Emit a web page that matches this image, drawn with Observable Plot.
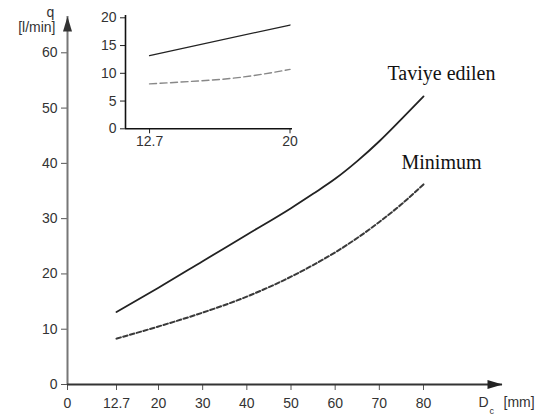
<!DOCTYPE html>
<html><head><meta charset="utf-8">
<script src="https://cdn.jsdelivr.net/npm/d3@7"></script>
<script src="https://cdn.jsdelivr.net/npm/@observablehq/plot@0.6"></script>
<style>
html,body{margin:0;padding:0;background:#fff;}
#wrap{position:relative;width:539px;height:418px;overflow:hidden;}
#wrap svg{position:absolute;left:0;top:0;}
</style></head><body><div id="wrap"></div>
<script>
// ---- data (main chart) ----
const mainXTicks = [0, 12.7, 20, 30, 40, 50, 60, 70, 80];
const mainYTicks = [0, 10, 20, 30, 40, 50, 60];
const diameter = [12.7, 20, 30, 40, 50, 55, 60, 65, 70, 75, 80];
const recommended = [13.1, 17.5, 22.3, 27.1, 31.9, 34.5, 37.2, 40.4, 44.0, 48.0, 52.1];
const minimum = [8.3, 10.5, 13.0, 15.9, 19.5, 21.6, 23.9, 26.5, 29.4, 32.6, 36.2];
const seriesLabels = ["Taviye edilen", "Minimum"];
// ---- data (inset) ----
const insetXTicks = [12.7, 20];
const insetYTicks = [0, 5, 10, 15, 20];
const insetXDomain = [11.45, 20];
const insetRecDia = [12.7, 20];
const insetRecommended = [13.2, 18.7];
const insetMinDia = [12.7, 14.7, 17, 18.5, 20];
const insetMinimum = [8.1, 8.5, 9.1, 9.8, 10.7];

const recRows = diameter.map((d, i) => ({d, q: recommended[i]}));
const minRows = diameter.map((d, i) => ({d, q: minimum[i]}));
const insetRecRows = insetRecDia.map((d, i) => ({d, q: insetRecommended[i]}));
const insetMinRows = insetMinDia.map((d, i) => ({d, q: insetMinimum[i]}));

const fmt = d => String(d);
const sans = "'Liberation Sans', Arial, Helvetica, sans-serif";
const serif = "'Liberation Serif', 'Times New Roman', serif";
// arrow head with its tip at the origin, pointing up
const arrowHead = {draw(ctx) { ctx.moveTo(0, 0); ctx.lineTo(4.5, 15); ctx.lineTo(-4.5, 15); ctx.closePath(); }};

const main = Plot.plot({
  width: 539, height: 418,
  marginLeft: 67, marginRight: 37, marginTop: 16, marginBottom: 34,
  style: {fontFamily: sans, fontSize: "14px", color: "#333", background: "transparent", overflow: "visible"},
  x: {type: "linear", domain: [0, 12.7, 20, 80], range: [67, 116, 158, 423]},
  y: {domain: [0, 60], range: [384, 52.3]},
  marks: [
    Plot.axisY({ticks: mainYTicks, tickSize: 6, tickPadding: 4, stroke: "#555", fill: "#333", tickFormat: fmt, label: null}),
    Plot.axisX({ticks: mainXTicks, tickSize: 6, tickPadding: 8, stroke: "#555", fill: "#333", tickFormat: fmt, label: null}),
    Plot.ruleX([0], {stroke: "#777", strokeWidth: 2}),
    Plot.ruleY([0], {stroke: "#333", strokeWidth: 2}),
    Plot.line(recRows, {x: "d", y: "q", curve: "monotone-x", stroke: "#222", strokeWidth: 1.8}),
    Plot.line(minRows, {x: "d", y: "q", curve: "monotone-x", stroke: "#3a3a3a", strokeWidth: 2, strokeDasharray: "4.5,2.5"}),
    Plot.text(recRows, Plot.selectLast({x: "d", y: "q", text: () => seriesLabels[0], dx: 18, dy: -23, textAnchor: "middle", lineAnchor: "middle", fontFamily: serif, fontSize: 20, fill: "#111"})),
    Plot.text(minRows, Plot.selectLast({x: "d", y: "q", text: () => seriesLabels[1], dx: 18, dy: -22, textAnchor: "middle", lineAnchor: "middle", fontFamily: serif, fontSize: 20, fill: "#111"})),
    Plot.dot([0], {x: d => d, frameAnchor: "top", symbol: arrowHead, fill: "#333", stroke: "none", r: 5}),
    Plot.dot([0], {y: d => d, frameAnchor: "right", symbol: arrowHead, rotate: 90, fill: "#222", stroke: "none", r: 5}),
    Plot.text(["q"], {frameAnchor: "top-left", text: d => d, dx: -17, dy: -4, textAnchor: "middle", lineAnchor: "middle", fill: "#333"}),
    Plot.text(["[l/min]"], {frameAnchor: "top-left", text: d => d, dx: -12, dy: 11, textAnchor: "end", lineAnchor: "middle", fill: "#333"}),
    Plot.text(["D"], {frameAnchor: "bottom-right", text: d => d, dx: -24, dy: 18, textAnchor: "start", lineAnchor: "middle", fill: "#333"}),
    Plot.text(["c"], {frameAnchor: "bottom-right", text: d => d, dx: -13, dy: 27, textAnchor: "start", lineAnchor: "middle", fontSize: 9, fill: "#333"}),
    Plot.text(["[mm]"], {frameAnchor: "bottom-right", text: d => d, dx: 1, dy: 18, textAnchor: "start", lineAnchor: "middle", fill: "#333"})
  ]
});

const inset = Plot.plot({
  width: 300, height: 160,
  marginLeft: 125, marginRight: 8, marginTop: 15, marginBottom: 31.7,
  style: {fontFamily: sans, fontSize: "14px", color: "#333", background: "transparent", overflow: "visible"},
  x: {domain: insetXDomain, range: [125, 289.5]},
  y: {domain: [0, 20], range: [128.3, 17.3]},
  marks: [
    Plot.axisY({ticks: insetYTicks, tickSize: 5, tickPadding: 4, stroke: "#222", fill: "#333", tickFormat: fmt, label: null}),
    Plot.axisX({ticks: insetXTicks, tickSize: 5, tickPadding: 2, stroke: "#222", fill: "#333", tickFormat: fmt, label: null}),
    Plot.ruleX([insetXDomain[0]], {stroke: "#111", strokeWidth: 1.6}),
    Plot.ruleY([0], {stroke: "#111", strokeWidth: 1.6}),
    Plot.line(insetRecRows, {x: "d", y: "q", stroke: "#222", strokeWidth: 1.3}),
    Plot.line(insetMinRows, {x: "d", y: "q", curve: "monotone-x", stroke: "#888", strokeWidth: 1.4, strokeDasharray: "7,3.5"})
  ]
});

const wrap = document.getElementById("wrap");
wrap.appendChild(main);
wrap.appendChild(inset);
</script>
</body></html>
